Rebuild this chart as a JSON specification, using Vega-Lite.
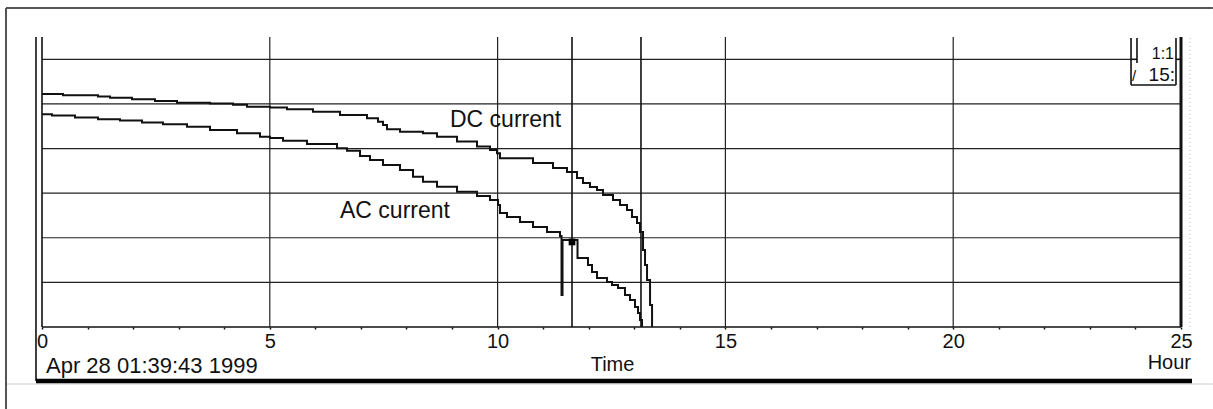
{
  "$schema": "https://vega.github.io/schema/vega-lite/v6.json",
  "width": 1139,
  "height": 290,
  "autosize": {"type": "none"},
  "padding": {"left": 42, "top": 37, "right": 32, "bottom": 82},
  "background": "white",
  "config": {"view": {"stroke": null}},
  "datasets": {
    "lines": [
      {"part": "grid", "x": 0, "x2": 25, "y": 1, "y2": 1},
      {"part": "grid", "x": 0, "x2": 25, "y": 2, "y2": 2},
      {"part": "grid", "x": 0, "x2": 25, "y": 3, "y2": 3},
      {"part": "grid", "x": 0, "x2": 25, "y": 4, "y2": 4},
      {"part": "grid", "x": 0, "x2": 25, "y": 5, "y2": 5},
      {"part": "grid", "x": 0, "x2": 23.903, "y": 6, "y2": 6},
      {"part": "grid", "x": 5, "x2": 5, "y": 0, "y2": 6.5},
      {"part": "grid", "x": 10, "x2": 10, "y": 0, "y2": 6.5},
      {"part": "grid", "x": 15, "x2": 15, "y": 0, "y2": 6.5},
      {"part": "grid", "x": 20, "x2": 20, "y": 0, "y2": 6.5},
      {"part": "axis", "x": 0, "x2": 0, "y": 0, "y2": 6.5},
      {"part": "axis", "x": 0, "x2": 25, "y": 0, "y2": 0},
      {"part": "axis", "x": -0.132, "x2": -0.132, "y": -1.211, "y2": 6.5},
      {"part": "right", "x": 25, "x2": 25, "y": 0, "y2": 6.5},
      {"part": "cursor", "x": 11.633, "x2": 11.633, "y": 0, "y2": 6.5},
      {"part": "cursor", "x": 13.147, "x2": 13.147, "y": 0, "y2": 6.5},
      {"part": "box", "x": 23.903, "x2": 23.903, "y": 5.424, "y2": 6.48},
      {"part": "box", "x": 24.034, "x2": 24.034, "y": 5.917, "y2": 6.48},
      {"part": "box", "x": 24.89, "x2": 24.89, "y": 5.424, "y2": 6.48},
      {"part": "box", "x": 23.903, "x2": 24.89, "y": 5.424, "y2": 5.424},
      {"part": "box", "x": 23.903, "x2": 24.034, "y": 6, "y2": 6},
      {"part": "box", "x": 24.89, "x2": 25, "y": 6, "y2": 6},
      {"part": "frame", "x": -0.79, "x2": 25.7, "y": 7.15, "y2": 7.15},
      {"part": "frame", "x": -0.79, "x2": -0.79, "y": -1.839, "y2": 7.15},
      {"part": "faint", "x": -0.79, "x2": 25.7, "y": -1.278, "y2": -1.278},
      {"part": "dotted", "x": 25.197, "x2": 25.197, "y": 0, "y2": 6.5},
      {"part": "bar", "x": -0.132, "x2": 25.241, "y": -1.211, "y2": -1.211}
    ],
    "curves": [
      {"series": "DC", "x": 0, "y": 5.224},
      {"series": "DC", "x": 0.461, "y": 5.195},
      {"series": "DC", "x": 1.229, "y": 5.164},
      {"series": "DC", "x": 1.493, "y": 5.141},
      {"series": "DC", "x": 1.975, "y": 5.105},
      {"series": "DC", "x": 2.48, "y": 5.067},
      {"series": "DC", "x": 2.963, "y": 5.029},
      {"series": "DC", "x": 3.687, "y": 5.007},
      {"series": "DC", "x": 4.192, "y": 4.984},
      {"series": "DC", "x": 4.5, "y": 4.939},
      {"series": "DC", "x": 5.004, "y": 4.922},
      {"series": "DC", "x": 5.378, "y": 4.881},
      {"series": "DC", "x": 5.948, "y": 4.827},
      {"series": "DC", "x": 6.541, "y": 4.753},
      {"series": "DC", "x": 7.134, "y": 4.679},
      {"series": "DC", "x": 7.375, "y": 4.603},
      {"series": "DC", "x": 7.485, "y": 4.529},
      {"series": "DC", "x": 7.572, "y": 4.433},
      {"series": "DC", "x": 7.858, "y": 4.379},
      {"series": "DC", "x": 8.363, "y": 4.343},
      {"series": "DC", "x": 8.67, "y": 4.267},
      {"series": "DC", "x": 9.109, "y": 4.155},
      {"series": "DC", "x": 9.548, "y": 4.043},
      {"series": "DC", "x": 9.833, "y": 3.969},
      {"series": "DC", "x": 9.987, "y": 3.895},
      {"series": "DC", "x": 10.053, "y": 3.783},
      {"series": "DC", "x": 10.777, "y": 3.677},
      {"series": "DC", "x": 11.216, "y": 3.565},
      {"series": "DC", "x": 11.523, "y": 3.475},
      {"series": "DC", "x": 11.743, "y": 3.341},
      {"series": "DC", "x": 11.874, "y": 3.229},
      {"series": "DC", "x": 12.028, "y": 3.139},
      {"series": "DC", "x": 12.182, "y": 3.072},
      {"series": "DC", "x": 12.313, "y": 2.96},
      {"series": "DC", "x": 12.533, "y": 2.848},
      {"series": "DC", "x": 12.687, "y": 2.735},
      {"series": "DC", "x": 12.84, "y": 2.623},
      {"series": "DC", "x": 12.95, "y": 2.466},
      {"series": "DC", "x": 13.06, "y": 2.332},
      {"series": "DC", "x": 13.126, "y": 2.13},
      {"series": "DC", "x": 13.192, "y": 1.726},
      {"series": "DC", "x": 13.236, "y": 1.39},
      {"series": "DC", "x": 13.28, "y": 1.054},
      {"series": "DC", "x": 13.346, "y": 0.493},
      {"series": "DC", "x": 13.39, "y": 0},
      {"series": "AC", "x": 0, "y": 4.769},
      {"series": "AC", "x": 0.219, "y": 4.738},
      {"series": "AC", "x": 0.724, "y": 4.693},
      {"series": "AC", "x": 1.229, "y": 4.657},
      {"series": "AC", "x": 1.712, "y": 4.626},
      {"series": "AC", "x": 2.195, "y": 4.581},
      {"series": "AC", "x": 2.656, "y": 4.545},
      {"series": "AC", "x": 3.183, "y": 4.491},
      {"series": "AC", "x": 3.687, "y": 4.417},
      {"series": "AC", "x": 4.28, "y": 4.343},
      {"series": "AC", "x": 4.785, "y": 4.267},
      {"series": "AC", "x": 5.004, "y": 4.238},
      {"series": "AC", "x": 5.29, "y": 4.177},
      {"series": "AC", "x": 5.817, "y": 4.103},
      {"series": "AC", "x": 6.475, "y": 4.007},
      {"series": "AC", "x": 6.694, "y": 3.953},
      {"series": "AC", "x": 6.98, "y": 3.834},
      {"series": "AC", "x": 7.199, "y": 3.744},
      {"series": "AC", "x": 7.485, "y": 3.632},
      {"series": "AC", "x": 7.858, "y": 3.52},
      {"series": "AC", "x": 8.143, "y": 3.37},
      {"series": "AC", "x": 8.363, "y": 3.258},
      {"series": "AC", "x": 8.67, "y": 3.146},
      {"series": "AC", "x": 9.109, "y": 3.034},
      {"series": "AC", "x": 9.548, "y": 2.937},
      {"series": "AC", "x": 9.833, "y": 2.848},
      {"series": "AC", "x": 10.009, "y": 2.735},
      {"series": "AC", "x": 10.053, "y": 2.556},
      {"series": "AC", "x": 10.206, "y": 2.466},
      {"series": "AC", "x": 10.492, "y": 2.354},
      {"series": "AC", "x": 10.777, "y": 2.242},
      {"series": "AC", "x": 11.084, "y": 2.13},
      {"series": "AC", "x": 11.37, "y": 2.04},
      {"series": "AC", "x": 11.403, "y": 0.717},
      {"series": "AC", "x": 11.425, "y": 1.951},
      {"series": "AC", "x": 11.754, "y": 1.547},
      {"series": "AC", "x": 11.984, "y": 1.39},
      {"series": "AC", "x": 12.072, "y": 1.233},
      {"series": "AC", "x": 12.182, "y": 1.099},
      {"series": "AC", "x": 12.402, "y": 1.009},
      {"series": "AC", "x": 12.511, "y": 0.942},
      {"series": "AC", "x": 12.643, "y": 0.874},
      {"series": "AC", "x": 12.796, "y": 0.717},
      {"series": "AC", "x": 12.906, "y": 0.605},
      {"series": "AC", "x": 13.016, "y": 0.448},
      {"series": "AC", "x": 13.082, "y": 0.314},
      {"series": "AC", "x": 13.126, "y": 0.157},
      {"series": "AC", "x": 13.17, "y": 0}
    ],
    "labels": [
      {"kind": "curve", "x": 8.955, "y": 4.49, "label": "DC current"},
      {"kind": "curve", "x": 6.541, "y": 2.436, "label": "AC current"},
      {"kind": "date", "x": 0.088, "y": -1.031, "label": "Apr 28 01:39:43 1999"},
      {"kind": "time", "x": 12.522, "y": -0.986, "label": "Time"},
      {"kind": "unit", "x": 25.22, "y": -0.94, "label": "Hour"},
      {"kind": "ratio", "x": 24.846, "y": 6.007, "label": "1:1"},
      {"kind": "scale", "x": 24.868, "y": 5.514, "label": "15:"},
      {"kind": "slash", "x": 23.925, "y": 5.514, "label": "/"}
    ],
    "marker": [
      {"x": 11.633, "y": 1.906}
    ]
  },
  "encoding": {
    "x": {
      "field": "x",
      "type": "quantitative",
      "scale": {"domain": [0, 25], "nice": false, "zero": false},
      "axis": {
        "values": [0,1,2,3,4,5,6,7,8,9,10,11,12,13,14,15,16,17,18,19,20,21,22,23,24,25],
        "labelExpr": "datum.value % 5 === 0 ? datum.label : ''",
        "title": null,
        "domain": false,
        "grid": false,
        "ticks": true,
        "tickSize": 2,
        "tickWidth": 1.5,
        "tickColor": "#111",
        "labelFont": "Liberation Sans",
        "labelFontSize": 20,
        "labelColor": "#111",
        "labelBaseline": "alphabetic",
        "labelPadding": 18,
        "labelFlush": false,
        "labelOverlap": false
      }
    },
    "y": {
      "field": "y",
      "type": "quantitative",
      "scale": {"domain": [0, 6.5], "nice": false, "zero": false},
      "axis": null
    }
  },
  "layer": [
    {
      "data": {"name": "lines"},
      "transform": [{"filter": "datum.part === 'grid'"}],
      "mark": {"type": "rule", "color": "#222", "strokeWidth": 1.2},
      "encoding": {"x2": {"field": "x2"}, "y2": {"field": "y2"}}
    },
    {
      "data": {"name": "lines"},
      "transform": [{"filter": "datum.part === 'faint'"}],
      "mark": {"type": "rule", "color": "#cccccc", "strokeWidth": 1},
      "encoding": {"x2": {"field": "x2"}, "y2": {"field": "y2"}}
    },
    {
      "data": {"name": "lines"},
      "transform": [{"filter": "datum.part === 'dotted'"}],
      "mark": {"type": "rule", "color": "#bbbbbb", "strokeWidth": 1, "strokeDash": [1, 3]},
      "encoding": {"x2": {"field": "x2"}, "y2": {"field": "y2"}}
    },
    {
      "data": {"name": "lines"},
      "transform": [{"filter": "datum.part === 'axis' || datum.part === 'box'"}],
      "mark": {"type": "rule", "color": "#111", "strokeWidth": 1.6},
      "encoding": {"x2": {"field": "x2"}, "y2": {"field": "y2"}}
    },
    {
      "data": {"name": "lines"},
      "transform": [{"filter": "datum.part === 'right'"}],
      "mark": {"type": "rule", "color": "#111", "strokeWidth": 3},
      "encoding": {"x2": {"field": "x2"}, "y2": {"field": "y2"}}
    },
    {
      "data": {"name": "lines"},
      "transform": [{"filter": "datum.part === 'cursor'"}],
      "mark": {"type": "rule", "color": "#111", "strokeWidth": 1.6},
      "encoding": {"x2": {"field": "x2"}, "y2": {"field": "y2"}}
    },
    {
      "data": {"name": "lines"},
      "transform": [{"filter": "datum.part === 'frame'"}],
      "mark": {"type": "rule", "color": "#555", "strokeWidth": 2},
      "encoding": {"x2": {"field": "x2"}, "y2": {"field": "y2"}}
    },
    {
      "data": {"name": "lines"},
      "transform": [{"filter": "datum.part === 'bar'"}],
      "mark": {"type": "rule", "color": "#000", "strokeWidth": 4.5},
      "encoding": {"x2": {"field": "x2"}, "y2": {"field": "y2"}}
    },
    {
      "data": {"name": "curves"},
      "mark": {"type": "line", "interpolate": "step-after", "color": "#111", "strokeWidth": 2},
      "encoding": {"detail": {"field": "series"}}
    },
    {
      "data": {"name": "marker"},
      "mark": {"type": "point", "shape": "square", "filled": true, "color": "#000", "size": 45, "opacity": 1}
    },
    {
      "data": {"name": "labels"},
      "transform": [{"filter": "datum.kind === 'curve'"}],
      "mark": {"type": "text", "align": "left", "baseline": "alphabetic", "font": "Liberation Sans", "fontSize": 23, "color": "#111"},
      "encoding": {"text": {"field": "label"}}
    },
    {
      "data": {"name": "labels"},
      "transform": [{"filter": "datum.kind === 'date'"}],
      "mark": {"type": "text", "align": "left", "baseline": "alphabetic", "font": "Liberation Sans", "fontSize": 22, "color": "#111"},
      "encoding": {"text": {"field": "label"}}
    },
    {
      "data": {"name": "labels"},
      "transform": [{"filter": "datum.kind === 'time'"}],
      "mark": {"type": "text", "align": "center", "baseline": "alphabetic", "font": "Liberation Sans", "fontSize": 20, "color": "#111"},
      "encoding": {"text": {"field": "label"}}
    },
    {
      "data": {"name": "labels"},
      "transform": [{"filter": "datum.kind === 'unit'"}],
      "mark": {"type": "text", "align": "right", "baseline": "alphabetic", "font": "Liberation Sans", "fontSize": 20, "color": "#111"},
      "encoding": {"text": {"field": "label"}}
    },
    {
      "data": {"name": "labels"},
      "transform": [{"filter": "datum.kind === 'ratio'"}],
      "mark": {"type": "text", "align": "right", "baseline": "alphabetic", "font": "Liberation Sans", "fontSize": 16, "color": "#111"},
      "encoding": {"text": {"field": "label"}}
    },
    {
      "data": {"name": "labels"},
      "transform": [{"filter": "datum.kind === 'scale'"}],
      "mark": {"type": "text", "align": "right", "baseline": "alphabetic", "font": "Liberation Sans", "fontSize": 19, "color": "#111"},
      "encoding": {"text": {"field": "label"}}
    },
    {
      "data": {"name": "labels"},
      "transform": [{"filter": "datum.kind === 'slash'"}],
      "mark": {"type": "text", "align": "left", "baseline": "alphabetic", "font": "Liberation Sans", "fontSize": 15, "color": "#111"},
      "encoding": {"text": {"field": "label"}}
    }
  ]
}
